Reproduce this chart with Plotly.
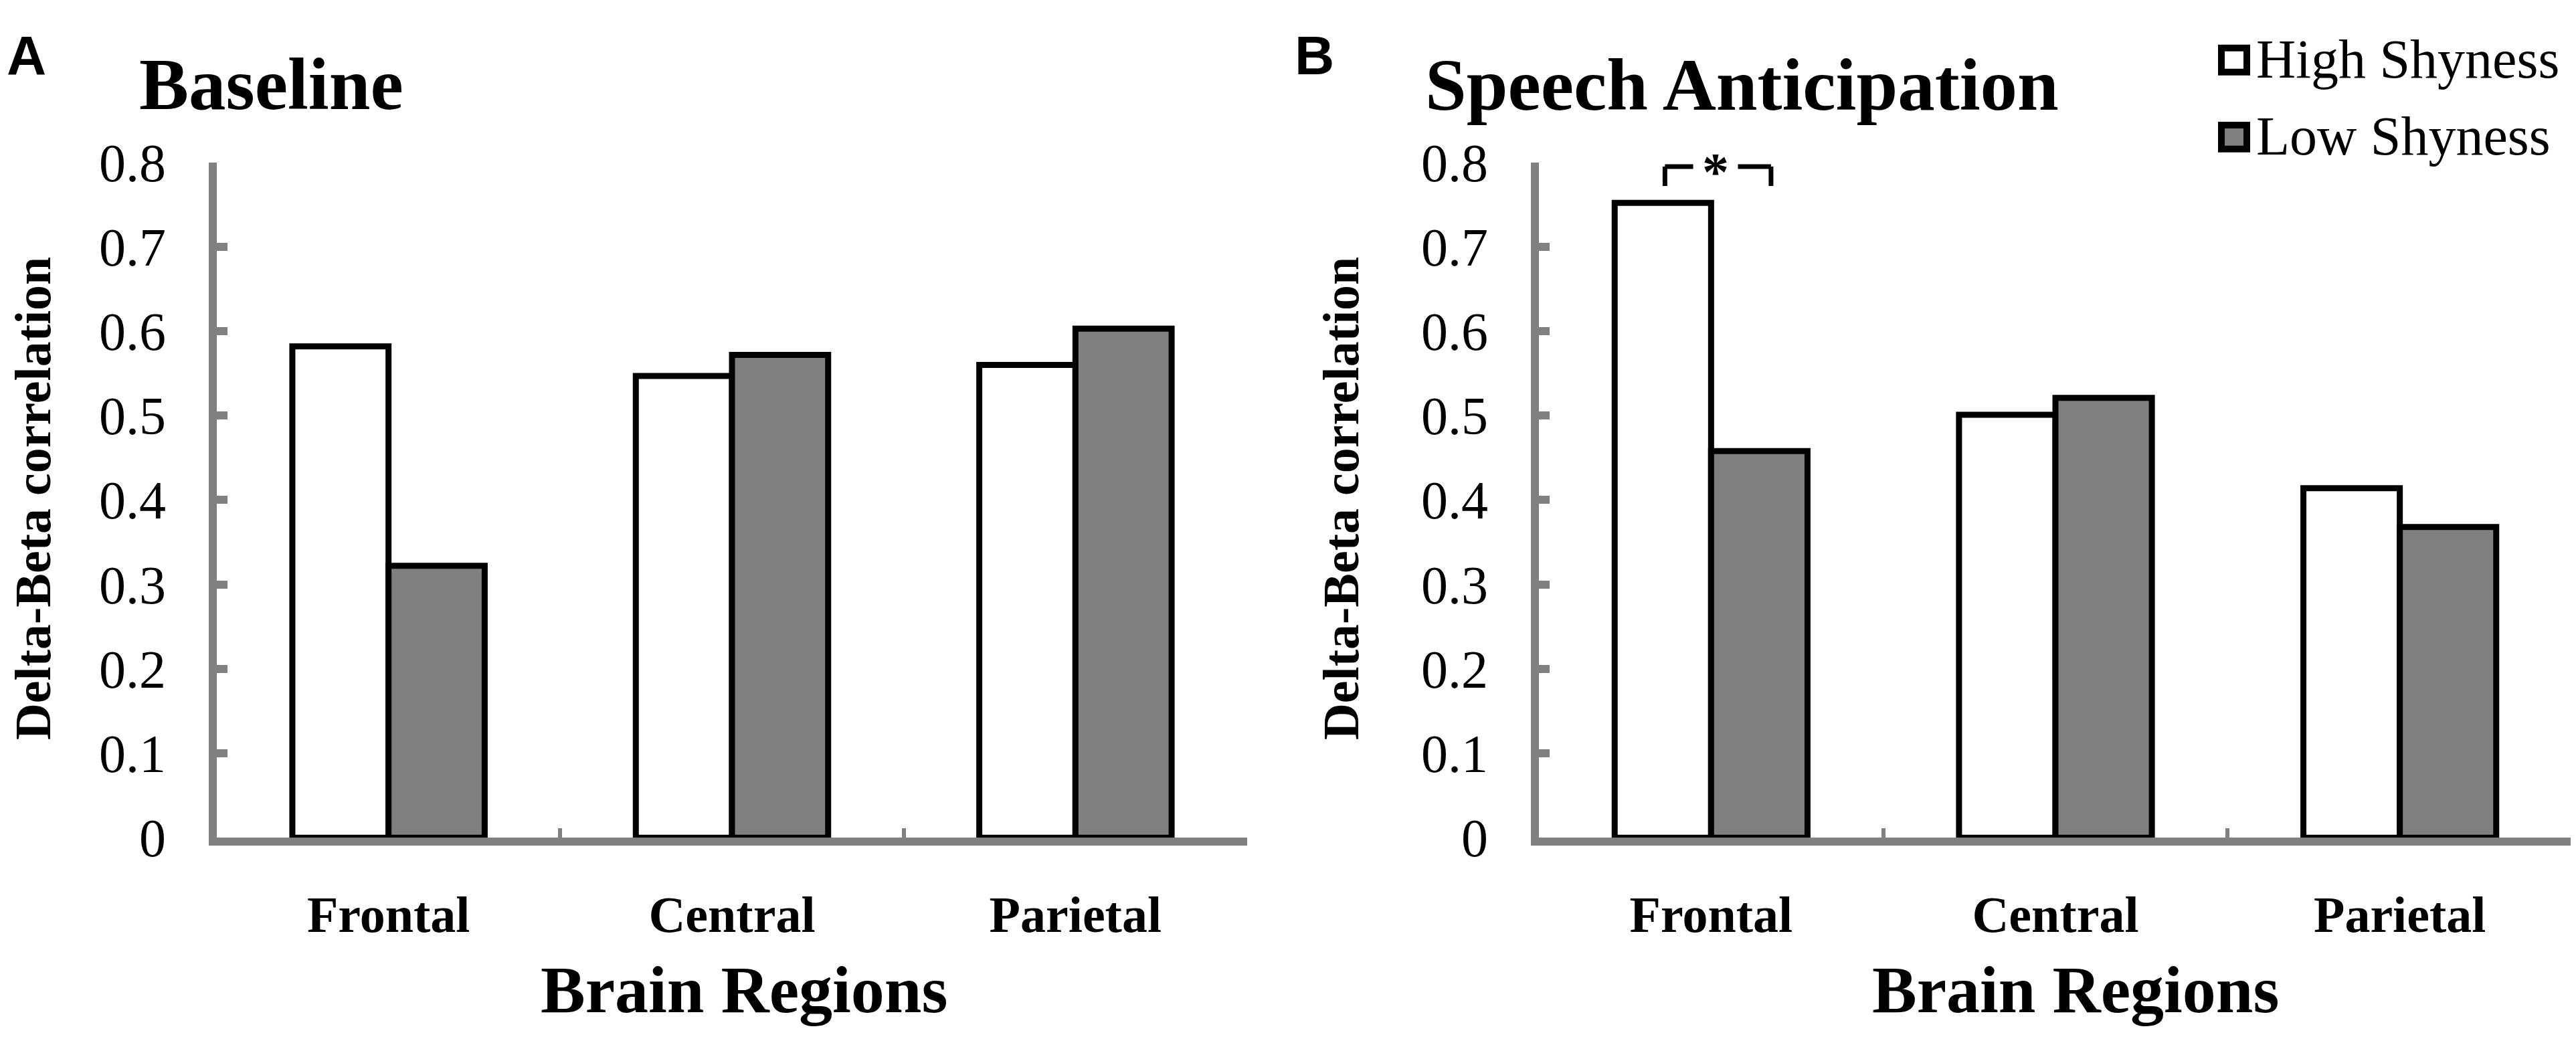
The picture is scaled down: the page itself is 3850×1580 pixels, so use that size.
import plotly.graph_objects as go

W, H = 3850, 1580

categories = ["Frontal", "Central", "Parietal"]
baseline_high = [0.582, 0.547, 0.560]
baseline_low = [0.322, 0.572, 0.603]
speech_high = [0.752, 0.501, 0.414]
speech_low = [0.458, 0.521, 0.368]
series_names = ["High Shyness", "Low Shyness"]
y_tickvals = [0, 0.1, 0.2, 0.3, 0.4, 0.5, 0.6, 0.7, 0.8]
y_ticktext = ["0", "0.1", "0.2", "0.3", "0.4", "0.5", "0.6", "0.7", "0.8"]
panel_titles = ["Baseline", "Speech Anticipation"]
panel_letters = ["A", "B"]
x_title = "Brain Regions"
y_title = "Delta-Beta correlation"
sig_label = "*"

GRAY = "#808080"
SERIF = "Liberation Serif"


def px(x):
    return x / W


def py(y):
    return 1 - y / H


fig = go.Figure()

panels = [
    (baseline_high, baseline_low, "x", "y"),
    (speech_high, speech_low, "x2", "y2"),
]
for hi, lo, xa, ya in panels:
    fig.add_trace(go.Bar(x=categories, y=hi, name=series_names[0], xaxis=xa, yaxis=ya,
                         marker=dict(color="white", line=dict(color="black", width=9)),
                         showlegend=False))
    fig.add_trace(go.Bar(x=categories, y=lo, name=series_names[1], xaxis=xa, yaxis=ya,
                         marker=dict(color=GRAY, line=dict(color="black", width=9)),
                         showlegend=False))

ydom = [py(1272), py(203)]
xdomA = [px(316), px(1856)]
xdomB = [px(2292), px(3836)]

xcommon = dict(type="category", showline=True, linecolor=GRAY, linewidth=12,
               ticks="inside", tickson="boundaries", ticklen=14, tickwidth=6, tickcolor=GRAY,
               showgrid=False, zeroline=False,
               tickfont=dict(family=SERIF, size=76, color="black", weight="bold"),
               ticklabelstandoff=38)
ycommon = dict(range=[0, 0.8], showline=True, linecolor=GRAY, linewidth=12,
               ticks="inside", ticklen=16, tickwidth=12, tickcolor=GRAY,
               tickvals=y_tickvals, ticktext=y_ticktext,
               showgrid=False, zeroline=False,
               tickfont=dict(family=SERIF, size=80, color="black"),
               ticklabelstandoff=48)

fig.update_layout(
    width=W, height=H,
    margin=dict(l=0, r=0, t=0, b=0),
    paper_bgcolor="white", plot_bgcolor="white",
    barmode="group", bargap=0.44, bargroupgap=0,
    xaxis=dict(domain=xdomA, anchor="y", **xcommon),
    yaxis=dict(domain=ydom, anchor="x", **ycommon),
    xaxis2=dict(domain=xdomB, anchor="y2", **xcommon),
    yaxis2=dict(domain=ydom, anchor="x2", **ycommon),
)

ann = []
# panel letters
ann.append(dict(text=panel_letters[0], x=px(0), y=py(33), xanchor="left", yanchor="middle",
                font=dict(family="Liberation Sans", size=82, color="black", weight="bold")))
ann.append(dict(text=panel_letters[1], x=px(1925), y=py(33), xanchor="left", yanchor="middle",
                font=dict(family="Liberation Sans", size=82, color="black", weight="bold")))
# titles
ann.append(dict(text=panel_titles[0], x=px(198), y=py(79), xanchor="left", yanchor="middle",
                font=dict(family=SERIF, size=111, color="black", weight="bold")))
ann.append(dict(text=panel_titles[1], x=px(2120), y=py(80), xanchor="left", yanchor="middle",
                font=dict(family=SERIF, size=111, color="black", weight="bold")))
# y titles
for xc in (41, 1996):
    ann.append(dict(text=y_title, x=px(xc), y=py(735), xanchor="center", yanchor="middle",
                    textangle=-90,
                    font=dict(family=SERIF, size=76, color="black", weight="bold")))
# x titles
for xc in (1104, 3094):
    ann.append(dict(text=x_title, x=px(xc), y=py(1513), xanchor="center", yanchor="middle",
                    font=dict(family=SERIF, size=100, color="black", weight="bold")))
# legend texts
ann.append(dict(text=series_names[0], x=px(3362), y=py(40), xanchor="left", yanchor="middle",
                font=dict(family=SERIF, size=82, color="black")))
ann.append(dict(text=series_names[1], x=px(3362), y=py(162), xanchor="left", yanchor="middle",
                font=dict(family=SERIF, size=82, color="black")))
# significance star
ann.append(dict(text=sig_label, x=0.012, y=0.789, xref="x2", yref="y2", showarrow=False,
                xanchor="center", yanchor="middle",
                font=dict(family=SERIF, size=80, color="black", weight="bold")))
for a in ann:
    a.setdefault("xref", "paper")
    a.setdefault("yref", "paper")
    a["showarrow"] = False
fig.update_layout(annotations=ann)

shapes = []
# legend boxes
shapes.append(dict(type="rect", xref="paper", yref="paper", x0=px(3312), x1=px(3350),
                   y0=py(22), y1=py(60), fillcolor="white", line=dict(color="black", width=10)))
shapes.append(dict(type="rect", xref="paper", yref="paper", x0=px(3312), x1=px(3350),
                   y0=py(144), y1=py(182), fillcolor=GRAY, line=dict(color="black", width=10)))
# significance bracket
bl, bli, bri, br = -0.134, -0.052, 0.078, 0.174
ytop, ybot = 0.795, 0.772
for (x0, y0, x1, y1) in [(bl, ybot, bl, ytop), (bl, ytop, bli, ytop),
                         (bri, ytop, br, ytop), (br, ytop, br, ybot)]:
    shapes.append(dict(type="line", xref="x2", yref="y2", x0=x0, y0=y0, x1=x1, y1=y1,
                       line=dict(color="black", width=7)))
fig.update_layout(shapes=shapes)

fig.write_html("out.html")
